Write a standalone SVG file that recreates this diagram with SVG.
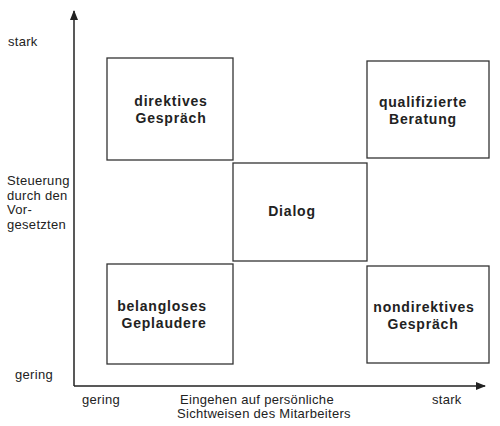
<svg xmlns="http://www.w3.org/2000/svg" width="500" height="426" viewBox="0 0 500 426">
<style>
.box{fill:none;stroke:#333;stroke-width:1.3}
.ax{stroke:#222;stroke-width:1.5;fill:none}
.lbl{font-family:"Liberation Sans",Arial,sans-serif;font-size:14px;font-weight:bold;fill:#222;letter-spacing:0.8px;text-anchor:middle}
.t{font-family:"Liberation Sans",Arial,sans-serif;font-size:13px;fill:#222;letter-spacing:0.3px}
</style>
<defs>
<marker id="arr" viewBox="0 0 10 10" refX="9" refY="5" markerWidth="10" markerHeight="10" markerUnits="userSpaceOnUse" orient="auto">
<path d="M0,1 L10,5 L0,9 Z" fill="#222"/>
</marker>
</defs>
<rect width="500" height="426" fill="#fff"/>
<g id="connectors">
<line class="ax" x1="74" y1="386" x2="74" y2="11" marker-end="url(#arr)"/>
<line class="ax" x1="74" y1="386" x2="485" y2="386" marker-end="url(#arr)"/>
</g>
<g id="axis-labels">
<text class="t" x="8" y="46">stark</text>
<text class="t" x="15" y="379">gering</text>
<text class="t" x="7" y="185">Steuerung</text>
<text class="t" x="7" y="200">durch den</text>
<text class="t" x="7" y="214">Vor-</text>
<text class="t" x="7" y="229">gesetzten</text>
<text class="t" x="82" y="404">gering</text>
<text class="t" x="180" y="404">Eingehen auf persönliche</text>
<text class="t" x="177" y="418">Sichtweisen des Mitarbeiters</text>
<text class="t" x="432" y="404">stark</text>
</g>
<g id="direktives">
<rect class="box" x="107" y="58" width="126" height="102"/>
<text class="lbl" x="171" y="106">direktives</text>
<text class="lbl" x="171" y="123">Gespräch</text>
</g>
<g id="qualifizierte">
<rect class="box" x="367" y="61" width="122" height="97"/>
<text class="lbl" x="423" y="107">qualifizierte</text>
<text class="lbl" x="423" y="124">Beratung</text>
</g>
<g id="dialog">
<rect class="box" x="233" y="163" width="134" height="98"/>
<text class="lbl" x="292" y="216">Dialog</text>
</g>
<g id="belangloses">
<rect class="box" x="107" y="264" width="126" height="100"/>
<text class="lbl" x="162" y="311">belangloses</text>
<text class="lbl" x="164" y="328">Geplaudere</text>
</g>
<g id="nondirektives">
<rect class="box" x="367" y="266" width="122" height="97"/>
<text class="lbl" x="424" y="312">nondirektives</text>
<text class="lbl" x="423" y="329">Gespräch</text>
</g>
</svg>
